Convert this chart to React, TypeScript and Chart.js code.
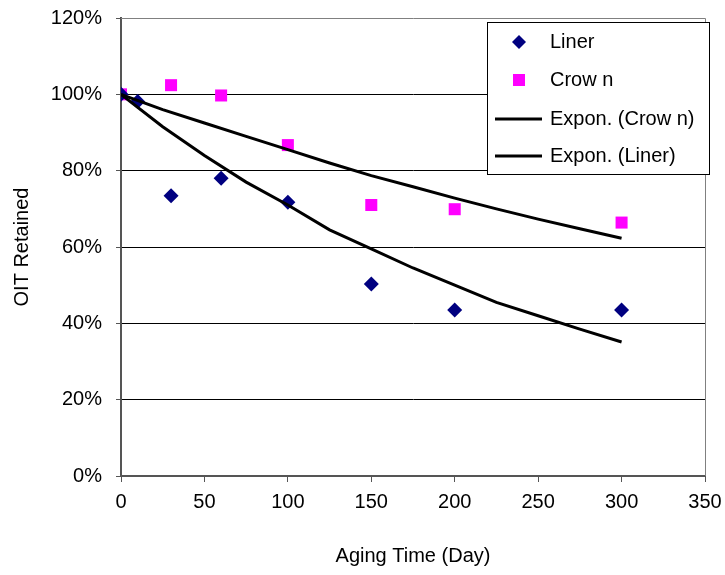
import React, { useEffect, useRef } from "react";
import { Chart, registerables } from "chart.js";

Chart.register(...registerables);

const linerDays = [0, 10, 30, 60, 100, 150, 200, 300];
const linerValues = [100, 98.1, 73.4, 78.0, 71.7, 50.3, 43.5, 43.5];

const crownDays = [0, 30, 60, 100, 150, 200, 300];
const crownValues = [100, 102.4, 99.7, 86.7, 71.0, 69.9, 66.4];

const trendDays = [0, 25, 50, 75, 100, 125, 150, 175, 200, 225, 250, 275, 300];
const crownTrend = [100, 96, 92.5, 89, 85.5, 82, 78.7, 75.8, 72.8, 70, 67.3, 64.8, 62.3];
const linerTrend = [100, 91.5, 84, 77, 71, 64.5, 59.5, 54.5, 50, 45.5, 42, 38.5, 35.1];

const xTicks = [0, 50, 100, 150, 200, 250, 300, 350];
const yTicks = [0, 20, 40, 60, 80, 100, 120];

const legendLabels = ["Liner", "Crow n", "Expon. (Crow n)", "Expon. (Liner)"];

const FONT = "'Liberation Sans', Arial, sans-serif";
const NAVY = "#000080";
const MAGENTA = "#FF00FF";

const pts = (xs: number[], ys: number[]) => xs.map((x, i) => ({ x, y: ys[i] }));

const frameLegendPlugin = {
  id: "frameLegend",
  afterDatasetsDraw(chart: any) {
    const { ctx, chartArea } = chart;
    ctx.save();
    ctx.strokeStyle = "#808080";
    ctx.lineWidth = 1;
    ctx.beginPath();
    ctx.moveTo(chartArea.left, chartArea.top + 0.5);
    ctx.lineTo(chartArea.right + 0.5, chartArea.top + 0.5);
    ctx.lineTo(chartArea.right + 0.5, chartArea.bottom);
    ctx.stroke();

    const bx = 487.5, by = 22.5, bw = 222, bh = 152;
    ctx.fillStyle = "#ffffff";
    ctx.fillRect(bx, by, bw, bh);
    ctx.strokeStyle = "#000000";
    ctx.lineWidth = 1;
    ctx.strokeRect(bx, by, bw, bh);

    const rows = [42, 80, 119, 156];
    const mx = 519;
    ctx.fillStyle = NAVY;
    ctx.beginPath();
    ctx.moveTo(mx - 7, rows[0]);
    ctx.lineTo(mx, rows[0] - 7);
    ctx.lineTo(mx + 7, rows[0]);
    ctx.lineTo(mx, rows[0] + 7);
    ctx.closePath();
    ctx.fill();
    ctx.fillStyle = MAGENTA;
    ctx.fillRect(mx - 6, rows[1] - 6, 12, 12);
    ctx.strokeStyle = "#000000";
    ctx.lineWidth = 3;
    [rows[2], rows[3]].forEach((y) => {
      ctx.beginPath();
      ctx.moveTo(495, y);
      ctx.lineTo(542, y);
      ctx.stroke();
    });
    ctx.fillStyle = "#000000";
    ctx.font = `20px ${FONT}`;
    ctx.textBaseline = "middle";
    ctx.textAlign = "left";
    legendLabels.forEach((t, i) => ctx.fillText(t, 550, rows[i]));
    ctx.restore();
  },
};

export default function App() {
  const ref = useRef<HTMLCanvasElement | null>(null);
  useEffect(() => {
    if (!ref.current) return;
    const chart = new Chart(ref.current, {
      type: "scatter",
      data: {
        datasets: [
          {
            label: "Expon. (Crow n)",
            data: pts(trendDays, crownTrend),
            showLine: true,
            borderColor: "#000000",
            borderWidth: 3,
            pointRadius: 0,
            order: 0,
          },
          {
            label: "Expon. (Liner)",
            data: pts(trendDays, linerTrend),
            showLine: true,
            borderColor: "#000000",
            borderWidth: 3,
            pointRadius: 0,
            order: 0,
          },
          {
            label: "Liner",
            data: pts(linerDays, linerValues),
            pointStyle: "rectRot",
            pointRadius: 7.5,
            backgroundColor: NAVY,
            borderColor: NAVY,
            borderWidth: 0,
            order: 1,
          },
          {
            label: "Crow n",
            data: pts(crownDays, crownValues),
            pointStyle: "rect",
            pointRadius: 8.5,
            backgroundColor: MAGENTA,
            borderColor: MAGENTA,
            borderWidth: 0,
            order: 1,
          },
        ],
      },
      options: {
        animation: false,
        responsive: false,
        events: [],
        layout: { padding: { top: 18, right: 20, left: 0, bottom: 0 } },
        plugins: { legend: { display: false }, tooltip: { enabled: false } },
        scales: {
          x: {
            type: "linear",
            min: 0,
            max: 350,
            afterBuildTicks: (s: any) => {
              s.ticks = xTicks.map((v) => ({ value: v }));
            },
            afterFit: (s: any) => {
              s.height = 99;
              s.paddingLeft = 0;
              s.paddingRight = 0;
            },
            ticks: {
              color: "#000000",
              font: { family: FONT, size: 20 },
              padding: 8,
              maxRotation: 0,
            },
            grid: {
              drawOnChartArea: false,
              drawTicks: true,
              tickLength: 6,
              color: "#555555",
            },
            border: { color: "#555555", width: 2 },
            title: {
              display: true,
              text: "Aging Time (Day)",
              color: "#000000",
              font: { family: FONT, size: 20 },
              padding: { top: 0, bottom: 7 },
            },
          },
          y: {
            type: "linear",
            min: 0,
            max: 120,
            afterBuildTicks: (s: any) => {
              s.ticks = yTicks.map((v) => ({ value: v }));
            },
            afterFit: (s: any) => {
              s.width = 121;
              s.paddingTop = 0;
              s.paddingBottom = 0;
            },
            ticks: {
              color: "#000000",
              font: { family: FONT, size: 20 },
              padding: 14,
              callback: (v: any) => `${v}%`,
            },
            grid: {
              drawTicks: true,
              tickLength: 5,
              color: (c: any) =>
                c.tick && c.tick.value === 120 ? "rgba(0,0,0,0)" : "#000000",
              tickColor: "#555555",
            },
            border: { color: "#555555", width: 2 },
            title: {
              display: true,
              text: "OIT Retained",
              color: "#000000",
              font: { family: FONT, size: 20 },
              padding: { top: 10, bottom: 10 },
            },
          },
        },
      },
      plugins: [frameLegendPlugin],
    } as any);
    return () => chart.destroy();
  }, []);
  return (
    <div style={{ position: "fixed", left: 0, top: 0, width: 725, height: 575, background: "#fff" }}>
      <canvas ref={ref} width={725} height={575} style={{ width: 725, height: 575 }} />
    </div>
  );
}
